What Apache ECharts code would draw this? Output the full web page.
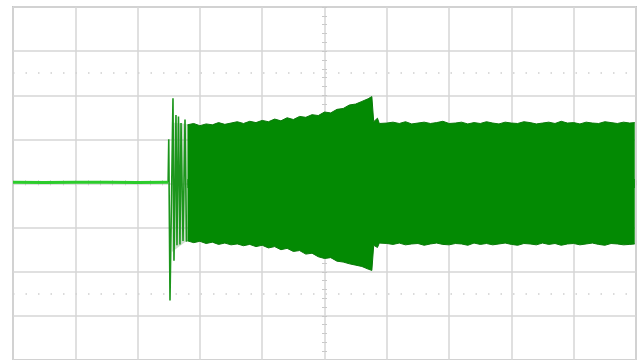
<!DOCTYPE html>
<html><head><meta charset="utf-8">
<script src="https://cdn.jsdelivr.net/npm/echarts@6/dist/echarts.min.js"></script>
<style>html,body{margin:0;padding:0;background:#fff}#c{width:644px;height:360px}</style>
</head><body><div id="c"></div>
<script>
// time axis in divisions from screen centre, amplitude in divisions
const timeRange = [-5, 5];
const ampRange = [-4, 4];
const markerLevels = [2.5, -2.5];

const baselineX = [-5, -4.5, -4, -3.5, -3, -2.51];
const baselineY = [0.03, 0.02, 0.03, 0.03, 0.02, 0.03];

const spikeX = [-2.51, -2.50, -2.48, -2.432, -2.416, -2.384, -2.368, -2.344, -2.32, -2.303, -2.271, -2.239, -2.215];
const spikeY = [0.03, 1.0, -2.65, 1.93, -1.75, 1.55, -1.40, 1.52, -1.38, 1.37, -1.30, 1.45, -1.32];

const hazeX = [-2.45, -2.21];
const hazeUpper = [1.38, 1.35];
const hazeLower = [-1.55, -1.30];

const bandX = [-2.2,-2.1,-2.0,-1.9,-1.8,-1.7,-1.6,-1.5,-1.4,-1.3,-1.2,-1.1,-1.0,-0.9,-0.8,-0.7,-0.6,-0.5,-0.4,-0.3,-0.2,-0.1,0.0,0.1,0.2,0.3,0.4,0.5,0.6,0.7,
  0.76,0.79,0.82,0.85,0.88,0.9,
  1.0,1.1,1.2,1.3,1.4,1.5,1.6,1.7,1.8,1.9,2.0,2.1,2.2,2.3,2.4,2.5,2.6,2.7,2.8,2.9,3.0,3.1,3.2,3.3,3.4,3.5,3.6,3.7,3.8,3.9,4.0,4.1,4.2,4.3,4.4,4.5,4.6,4.7,4.8,4.9,
  4.98];
const bandUpper = [1.33,1.36,1.31,1.35,1.33,1.38,1.34,1.37,1.40,1.36,1.41,1.38,1.43,1.40,1.46,1.42,1.49,1.45,1.52,1.50,1.56,1.54,1.62,1.60,1.68,1.70,1.78,1.80,1.86,1.92,
  1.97,1.40,1.38,1.48,1.36,1.38,
  1.37,1.39,1.36,1.40,1.35,1.37,1.39,1.36,1.38,1.41,1.36,1.37,1.39,1.35,1.38,1.36,1.40,1.37,1.35,1.39,1.37,1.36,1.40,1.38,1.35,1.37,1.39,1.36,1.41,1.37,1.38,1.35,1.39,1.37,1.36,1.40,1.38,1.36,1.39,1.37,
  1.38];
const bandLower = [-1.30,-1.34,-1.31,-1.36,-1.33,-1.38,-1.35,-1.39,-1.37,-1.41,-1.38,-1.43,-1.40,-1.46,-1.43,-1.50,-1.47,-1.54,-1.52,-1.60,-1.58,-1.66,-1.70,-1.68,-1.76,-1.78,-1.82,-1.85,-1.88,-1.94,
  -1.97,-1.40,-1.36,-1.45,-1.35,-1.37,
  -1.36,-1.38,-1.35,-1.39,-1.37,-1.36,-1.40,-1.37,-1.35,-1.38,-1.39,-1.36,-1.37,-1.40,-1.35,-1.38,-1.36,-1.39,-1.37,-1.35,-1.38,-1.40,-1.36,-1.37,-1.39,-1.35,-1.38,-1.36,-1.40,-1.37,-1.36,-1.39,-1.37,-1.35,-1.38,-1.40,-1.36,-1.37,-1.39,-1.38,
  -1.37];

const zip = (xs, ys) => xs.map((x, i) => [x, ys[i]]);
const GREEN = '#038a03';
const GRIDC = '#d6d6d6';
const TICKC = '#c8c8c8';

function tickAxis(dim, inside) {
  const base = {
    type: 'value', min: dim === 'x' ? timeRange[0] : ampRange[0], max: dim === 'x' ? timeRange[1] : ampRange[1], interval: 1,
    axisLine: { show: false, onZero: false },
    axisTick: { show: true, inside: inside, length: 2.5, lineStyle: { color: TICKC, width: 1 } },
    minorTick: { show: true, splitNumber: 5, length: 2.5, lineStyle: { color: TICKC, width: 1 } },
    axisLabel: { show: false }, splitLine: { show: false }
  };
  if (dim === 'x') { base.position = 'bottom'; base.offset = -177.2; }
  else { base.position = 'left'; base.offset = -311.5; }
  return base;
}

const chart = echarts.init(document.getElementById('c'), null, { renderer: 'canvas' });
chart.setOption({
  animation: false,
  backgroundColor: '#ffffff',
  grid: { left: 13, top: 7, width: 623, height: 354.4, show: true, borderColor: '#c6c6c6', borderWidth: 2, backgroundColor: 'transparent' },
  xAxis: [
    { type: 'value', min: timeRange[0], max: timeRange[1], interval: 1,
      axisLine: { show: false, onZero: false }, axisTick: { show: false }, axisLabel: { show: false },
      splitLine: { show: true, lineStyle: { color: GRIDC, width: 1.5 } } },
    tickAxis('x', false), tickAxis('x', true)
  ],
  yAxis: [
    { type: 'value', min: ampRange[0], max: ampRange[1], interval: 1,
      axisLine: { show: false, onZero: false }, axisTick: { show: false }, axisLabel: { show: false },
      splitLine: { show: true, lineStyle: { color: GRIDC, width: 1.5 } } },
    tickAxis('y', false), tickAxis('y', true)
  ],
  series: [
    { type: 'line', data: zip(hazeX, hazeUpper), symbol: 'none', lineStyle: { width: 0 },
      areaStyle: { color: 'rgba(90,150,90,0.45)', origin: 0 }, z: 2 },
    { type: 'line', data: zip(hazeX, hazeLower), symbol: 'none', lineStyle: { width: 0 },
      areaStyle: { color: 'rgba(90,150,90,0.45)', origin: 0 }, z: 2 },
    { type: 'line', data: zip(bandX, bandUpper), symbol: 'none', lineStyle: { width: 1, color: '#0a7a0a' },
      areaStyle: { color: GREEN, opacity: 1, origin: -0.1 }, z: 3 },
    { type: 'line', data: zip(bandX, bandLower), symbol: 'none', lineStyle: { width: 1, color: '#0a7a0a' },
      areaStyle: { color: GREEN, opacity: 1, origin: 0.1 }, z: 3 },
    { type: 'line', data: zip(spikeX, spikeY), symbol: 'none', lineStyle: { width: 1.6, color: '#1c961c' }, z: 4 },
    { type: 'line', data: zip(baselineX, baselineY), symbol: 'none', lineStyle: { width: 3, color: '#2ccc2c' }, z: 4,
      markLine: { silent: true, symbol: 'none', label: { show: false },
        lineStyle: { color: '#cfcfcf', width: 1.5, type: [1.5, 11] },
        data: markerLevels.map(v => ({ yAxis: v })) } }
  ]
});
</script>
</body></html>
